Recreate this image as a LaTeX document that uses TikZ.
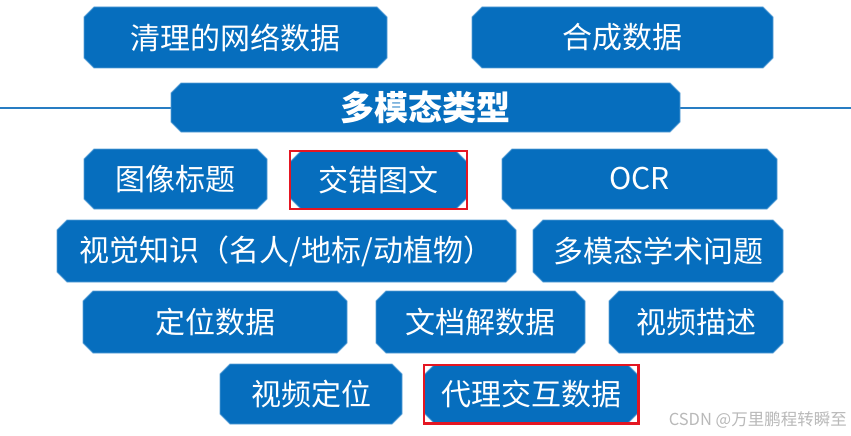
\documentclass[tikz,border=0pt]{standalone}
\usepackage{fontspec}
\usepackage{tikz}
\usetikzlibrary{shapes.misc}
\newfontfamily\cjk{Noto Sans CJK SC}
\definecolor{BoxBlue}{RGB}{6,110,190}
\definecolor{EdgeBlue}{RGB}{90,160,215}
\definecolor{LineBlue}{RGB}{40,125,195}
\definecolor{MarkRed}{RGB}{228,22,34}
\definecolor{MarkGray}{RGB}{185,185,185}
\begin{document}
\begin{tikzpicture}[x=1pt,y=-1pt,
    box/.style={chamfered rectangle,chamfered rectangle xsep=5pt,
                chamfered rectangle ysep=5pt,fill=BoxBlue,draw=EdgeBlue,
                line width=0.8pt,text=white,inner sep=0pt,
                font=\cjk\fontsize{30}{36}\selectfont,
                minimum height=61pt},
    title/.style={box,font=\cjk\bfseries\fontsize{34}{40}\selectfont,
                  minimum height=49pt},
    redframe/.style={draw=MarkRed,line width=2.2pt},
    rule/.style={LineBlue,line width=1.5pt}
  ]
    \fill[white] (0,0) rectangle (851,436);
    \useasboundingbox (0,0) rectangle (851,436);
    \coordinate (ruleL) at (0,108);
    \coordinate (ruleR) at (851,108);
    \draw[rule] (ruleL) -- (ruleR);
    \node[box,minimum width=303pt] (clean) at (235.5,37.5) {清理的网络数据};
    \node[box,minimum width=301pt] (synth) at (622.5,37.5) {合成数据};
    \node[title,minimum width=509pt] (types) at (425.5,107.5) {多模态类型};
    \node[box,minimum width=183pt,minimum height=60pt] (caption) at (175.5,179) {图像标题};
    \node[box,minimum width=176pt,minimum height=57pt] (inter) at (378.5,180) {交错图文};
    \node[box,minimum width=275pt,minimum height=60pt] (ocr) at (639.5,179) {OCR};
    \node[box,minimum width=459pt,minimum height=62pt] (know) at (286.5,251) {视觉知识（名人/地标/动植物）};
    \node[box,minimum width=250pt,minimum height=62pt] (acad) at (658,251) {多模态学术问题};
    \node[box,minimum width=264pt,minimum height=62pt] (ground) at (215,322) {定位数据};
    \node[box,minimum width=209pt,minimum height=62pt] (doc) at (480.5,322) {文档解数据};
    \node[box,minimum width=174pt,minimum height=62pt] (vidcap) at (696,322) {视频描述};
    \node[box,minimum width=182pt,minimum height=60pt] (vidloc) at (311,394) {视频定位};
    \node[box,minimum width=214pt,minimum height=58pt] (agent) at (531,394) {代理交互数据};
    \draw[redframe] (inter.west |- inter.north) rectangle (inter.east |- inter.south);
    \draw[redframe] (agent.west |- agent.north) rectangle (agent.east |- agent.south);
    \node[text=MarkGray,font=\cjk\fontsize{16.5}{18}\selectfont,anchor=east,inner sep=0pt]
      (credit) at (847,420) {CSDN @万里鹏程转瞬至};
\end{tikzpicture}
\end{document}
